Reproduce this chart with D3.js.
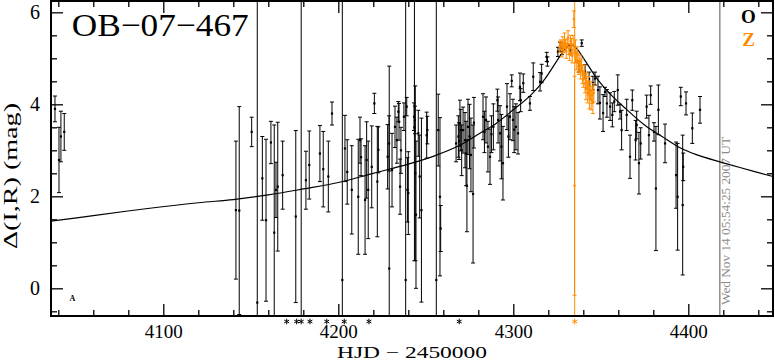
<!DOCTYPE html>
<html lang="en">
<head>
<meta charset="UTF-8">
<title>OB-07-467</title>
<script src="https://cdn.jsdelivr.net/npm/d3@7"></script>
<style>
    html, body { margin: 0; background: #fff; }
    svg { display: block; }
</style>
</head>
<body>
<script>

    // O band points: [HJD-2450000, delta mag, error]
    var obsO = [
        [4038.1, 3.90, 0.28], [4040.4, 2.79, 0.71], [4041.5, 3.30, 0.55], [4043.4, 3.40, 0.40],
        [4141.5, 1.70, 1.50], [4143.4, 1.69, 2.26], [4150.5, 3.40, 0.32], [4153.7, -0.31, 7.0],
        [4156.6, 2.39, 0.91], [4158.7, 1.48, 1.76], [4161.5, 3.17, 0.46], [4163.4, 1.21, 2.34],
        [4164.4, 2.14, 0.60], [4165.4, 2.21, 1.40], [4168.2, 2.46, 0.74], [4175.7, 1.56, 1.87],
        [4181.5, 2.35, 0.63], [4183.4, 2.68, 0.74], [4189.5, 2.93, 0.61], [4191.4, 2.59, 0.82],
        [4194.3, 2.43, 0.77], [4196.4, 3.80, 0.25], [4202.3, 0.18, 7.0], [4203.8, 3.04, 0.72],
        [4205.1, 2.53, 0.70], [4207.7, 2.14, 0.96], [4211.4, 1.99, 1.25], [4212.4, 3.22, 0.50],
        [4213.0, 2.85, 0.40], [4215.3, 1.92, 1.18], [4216.2, 2.79, 0.83], [4217.1, 2.14, 1.06],
        [4219.1, 2.64, 0.89], [4220.6, 4.02, 0.22], [4222.3, 2.32, 1.20], [4222.9, 3.01, 0.50],
        [4228.2, 2.86, 0.70], [4229.0, 3.15, 0.60], [4229.1, 0.43, 4.40], [4230.7, 2.57, 0.80],
        [4232.4, 3.51, 0.45], [4233.5, 3.22, 0.50], [4234.3, 3.84, 0.22], [4234.7, 3.62, 0.40],
        [4235.3, 2.21, 0.60], [4235.8, 3.00, 0.50], [4237.5, 3.73, 0.30], [4238.5, 0.18, 7.0],
        [4239.1, 3.95, 0.20], [4239.5, 2.14, 0.70], [4240.0, 2.07, 0.90], [4243.3, 3.73, 0.30],
        [4243.5, 3.50, 2.90], [4243.8, 3.66, 0.30], [4244.0, 2.50, 1.90], [4244.4, 1.60, 1.60],
        [4245.7, 3.37, 0.50], [4246.5, 2.43, 0.90], [4247.5, 1.70, 2.00], [4250.5, 3.33, 0.50],
        [4250.9, 3.44, 0.30], [4256.0, 0.18, 7.0], [4257.1, 3.44, 0.78], [4258.1, 1.99, 1.72],
        [4258.5, 1.30, 0.50], [4267.3, 3.15, 0.40], [4268.6, 3.30, 0.45], [4269.0, 3.20, 0.40],
        [4269.5, 3.59, 0.50], [4270.0, 3.44, 0.45], [4270.5, 3.00, 0.55], [4271.3, 3.44, 0.50],
        [4272.4, 3.22, 0.60], [4273.0, 2.93, 0.70], [4273.5, 2.23, 1.00], [4274.1, 3.51, 0.60],
        [4275.0, 3.30, 0.70], [4275.8, 2.90, 0.80], [4277.0, 2.05, 1.50], [4277.5, 3.60, 0.55],
        [4282.7, 3.73, 0.50], [4283.5, 3.40, 0.45], [4284.4, 3.66, 0.50], [4285.5, 3.08, 0.55],
        [4286.7, 2.86, 0.60], [4287.5, 3.35, 0.40], [4288.6, 3.51, 0.50], [4290.9, 4.09, 0.24],
        [4291.3, 3.66, 0.50], [4292.4, 3.37, 0.60], [4293.2, 3.08, 0.70], [4294.1, 2.72, 0.80],
        [4296.4, 3.95, 0.50], [4297.2, 3.30, 0.45], [4298.1, 3.73, 0.50], [4299.1, 4.51, 0.13],
        [4299.8, 3.66, 0.45], [4300.5, 3.45, 0.50], [4301.5, 3.51, 0.50], [4302.7, 3.37, 0.45],
        [4303.8, 4.38, 0.30], [4304.2, 4.09, 0.25], [4305.7, 4.46, 0.20], [4309.5, 4.02, 0.15],
        [4311.4, 4.60, 0.30], [4315.3, 4.49, 0.20], [4316.2, 4.67, 0.20], [4319.1, 5.03, 0.10],
        [4319.5, 4.93, 0.10], [4325.5, 5.14, 0.10], [4326.7, 5.25, 0.10], [4327.8, 5.20, 0.12],
        [4332.4, 5.18, 0.10], [4337.5, 4.82, 0.12], [4339.1, 5.33, 0.07], [4341.0, 4.71, 0.15],
        [4343.3, 4.55, 0.15], [4345.5, 4.46, 0.15], [4346.7, 4.56, 0.14], [4348.4, 4.31, 0.30],
        [4349.5, 4.03, 0.35], [4351.3, 3.81, 0.40], [4352.4, 4.27, 0.10], [4353.5, 4.02, 0.30],
        [4355.3, 3.95, 0.30], [4356.6, 3.77, 0.26], [4357.7, 4.06, 0.22], [4359.7, 4.31, 0.33],
        [4361.0, 3.84, 0.16], [4361.9, 3.44, 0.43], [4364.8, 3.77, 0.34], [4366.7, 2.86, 0.47],
        [4368.0, 4.09, 0.22], [4369.9, 3.22, 0.43], [4370.5, 3.55, 0.30], [4371.8, 2.72, 0.67],
        [4372.8, 3.15, 0.34], [4376.2, 3.95, 0.25], [4377.5, 3.33, 0.43], [4378.5, 4.20, 0.20],
        [4380.4, 3.40, 0.20], [4381.5, 2.17, 1.35], [4382.9, 3.88, 0.54], [4386.7, 3.15, 0.42],
        [4393.0, 2.46, 0.72], [4393.9, 1.99, 1.16], [4395.7, 4.17, 0.20], [4396.8, 1.81, 1.52],
        [4397.1, 2.64, 0.30], [4398.7, 4.02, 0.25], [4402.3, 3.48, 0.33], [4406.7, 3.88, 0.29],
        // below the plotted range
        [4170.5, -1.5, 0.5], [4176.2, -1.5, 0.5], [4178.8, -1.5, 9.0], [4183.8, -1.5, 0.5],
        [4193.4, -1.5, 0.5], [4203.4, -1.5, 0.5], [4217.5, -1.5, 0.5], [4269.1, -1.5, 0.5]
    ];

    // Z band points
    var obsZ = [
        [4326.5, 5.25, 0.12], [4327.2, 5.30, 0.10], [4327.8, 5.18, 0.15], [4328.3, 5.35, 0.12],
        [4328.8, 5.22, 0.10], [4329.3, 5.40, 0.15], [4329.8, 5.28, 0.12], [4330.3, 5.15, 0.15],
        [4330.8, 5.32, 0.10], [4331.3, 5.45, 0.15], [4331.8, 5.20, 0.12], [4332.2, 5.10, 0.15],
        [4332.7, 5.38, 0.12], [4333.2, 5.25, 0.18], [4333.7, 5.05, 0.15], [4334.2, 5.30, 0.20],
        [4334.6, 5.85, 0.18], [4335.0, 2.23, 2.38], [4335.1, -1.5, 9.0], [4335.5, 5.15, 0.25],
        [4336.0, 4.95, 0.20], [4336.5, 5.10, 0.15], [4337.0, 4.90, 0.20], [4337.5, 4.80, 0.15],
        [4338.0, 4.95, 0.12], [4338.5, 4.75, 0.20], [4339.0, 4.85, 0.15], [4339.5, 4.65, 0.20],
        [4340.0, 4.55, 0.18], [4340.5, 4.70, 0.15], [4341.0, 4.45, 0.20], [4341.5, 4.35, 0.25],
        [4342.0, 4.50, 0.18], [4342.5, 4.25, 0.22], [4343.0, 4.40, 0.20], [4343.5, 4.15, 0.25],
        [4344.0, 4.30, 0.20], [4344.5, 4.10, 0.22], [4345.0, 4.20, 0.18], [4345.5, 4.05, 0.25],
        [4346.0, 4.25, 0.20]
    ];

    // model curve
    var modelT = [4035.8, 4060, 4090, 4120, 4140, 4160, 4180, 4200, 4220, 4240, 4255, 4270, 4280,
        4290, 4300, 4310, 4318, 4325, 4330, 4333, 4336, 4341, 4348, 4356, 4365, 4375, 4385, 4395,
        4405, 4418, 4430, 4448.4];
    var modelMag = [1.46, 1.58, 1.73, 1.86, 1.93, 2.03, 2.16, 2.30, 2.50, 2.70, 2.88, 3.12, 3.35,
        3.58, 3.88, 4.20, 4.55, 4.95, 5.22, 5.30, 5.22, 4.95, 4.55, 4.20, 3.88, 3.55, 3.30, 3.06,
        2.90, 2.75, 2.62, 2.43];

    var xTicks = [4100, 4200, 4300, 4400];
    var yTicks = [0, 2, 4, 6];
    var bands = ["O", "Z"];
    var bandColors = ["#000", "#ff8c00"];
    var stampDate = 4418;
    var stampText = "Wed Nov 14 05:54:25 2007 UT";

    var width = 775, height = 362;
    var margin = {left: 51, top: 1, right: 2, bottom: 46};
    var w = width - margin.left - margin.right;
    var h = height - margin.top - margin.bottom;
    var font = "'Liberation Serif', 'DejaVu Serif', serif";

    var x = d3.scaleLinear().domain([4035.83, 4448.4]).range([0, w]);
    var y = d3.scaleLinear().domain([-0.602, 6.246]).range([h, 0]);

    var svg = d3.select("body").append("svg").attr("width", width).attr("height", height)
        .style("font-family", font);
    var g = svg.append("g").attr("transform", "translate(" + margin.left + "," + margin.top + ")");

    g.append("clipPath").attr("id", "clip").append("rect").attr("width", w).attr("height", h);

    // ticks on all four sides
    var xMinor = d3.range(4040, 4441, 20).filter(function (d) { return d % 100 !== 0; });
    var yMinor = d3.range(-0.5, 6.01, 0.5).filter(function (d) { return d % 2 !== 0; });

    function addAxis(axisFn, scale, tr, size, values, fmt, pad, fs) {
        var a = axisFn(scale).tickValues(values).tickSizeInner(size).tickSizeOuter(0)
            .tickPadding(pad).tickFormat(fmt);
        var sel = g.append("g").attr("transform", tr).call(a)
            .attr("font-family", font).attr("font-size", fs);
        sel.select(".domain").remove();
        sel.selectAll("line").attr("stroke", "#000").attr("stroke-width", 1.3);
        sel.selectAll("text").attr("fill", "#000");
        return sel;
    }
    var none = function () { return ""; };
    addAxis(d3.axisBottom, x, "translate(0," + h + ")", -12, xTicks, d3.format("d"), 9, 19);
    addAxis(d3.axisBottom, x, "translate(0," + h + ")", -6, xMinor, none, 0, 10);
    addAxis(d3.axisTop, x, "translate(0,0)", -12, xTicks, none, 0, 10);
    addAxis(d3.axisTop, x, "translate(0,0)", -6, xMinor, none, 0, 10);
    addAxis(d3.axisLeft, y, "translate(0,0)", -12, yTicks, d3.format("d"), 11, 20);
    addAxis(d3.axisLeft, y, "translate(0,0)", -6, yMinor, none, 0, 10);
    addAxis(d3.axisRight, y, "translate(" + w + ",0)", -12, yTicks, none, 0, 10);
    addAxis(d3.axisRight, y, "translate(" + w + ",0)", -6, yMinor, none, 0, 10);

    // date stamp
    g.append("line").attr("x1", x(stampDate)).attr("x2", x(stampDate)).attr("y1", 0).attr("y2", h)
        .attr("stroke", "#8c8c8c").attr("stroke-width", 1.5);
    g.append("text").attr("transform", "translate(" + (x(stampDate) + 10) + "," + (h - 11) + ") rotate(-90)")
        .attr("font-size", 12).attr("fill", "#8c8c8c").attr("textLength", 168)
        .attr("lengthAdjust", "spacingAndGlyphs").text(stampText);

    var plot = g.append("g").attr("clip-path", "url(#clip)");

    // model
    var line = d3.line().x(function (d) { return x(d[0]); }).y(function (d) { return y(d[1]); })
        .curve(d3.curveCatmullRom);
    plot.append("path").datum(modelT.map(function (t, i) { return [t, modelMag[i]]; }))
        .attr("d", line).attr("fill", "none").attr("stroke", "#000").attr("stroke-width", 1.2);

    function drawBand(data, color) {
        var pts = plot.append("g").selectAll("g").data(data).enter().append("g");
        pts.append("line")
            .attr("x1", function (d) { return x(d[0]); }).attr("x2", function (d) { return x(d[0]); })
            .attr("y1", function (d) { return y(d[1] - d[2]); }).attr("y2", function (d) { return y(d[1] + d[2]); })
            .attr("stroke", color).attr("stroke-width", 1);
        [-1, 1].forEach(function (s) {
            pts.append("line")
                .attr("x1", function (d) { return x(d[0]) - 2; }).attr("x2", function (d) { return x(d[0]) + 2; })
                .attr("y1", function (d) { return y(d[1] + s * d[2]); }).attr("y2", function (d) { return y(d[1] + s * d[2]); })
                .attr("stroke", color).attr("stroke-width", 1);
        });
        pts.append("rect")
            .attr("x", function (d) { return x(d[0]) - 1.1; }).attr("y", function (d) { return y(d[1]) - 1.1; })
            .attr("width", 2.2).attr("height", 2.2).attr("fill", color);

        // off-scale points marked below the frame
        g.append("g").selectAll("path").data(data.filter(function (d) { return d[1] < y.domain()[0]; }))
            .enter().append("path")
            .attr("d", d3.symbol(d3.symbolAsterisk, 22))
            .attr("transform", function (d) { return "translate(" + x(d[0]) + "," + (h + 5.5) + ")"; })
            .attr("fill", "none").attr("stroke", color).attr("stroke-width", 1);
    }
    drawBand(obsO, bandColors[0]);
    drawBand(obsZ, bandColors[1]);

    // frame
    g.append("rect").attr("width", w).attr("height", h).attr("fill", "none")
        .attr("stroke", "#000").attr("stroke-width", 2);

    // title and legend
    g.append("text").attr("x", 71.7 - margin.left).attr("y", 36 - margin.top)
        .attr("font-size", 32).attr("textLength", 177).attr("lengthAdjust", "spacingAndGlyphs")
        .text("OB\u221207\u2212467");
    bands.forEach(function (b, i) {
        g.append("text").attr("x", 748.5 - margin.left).attr("y", 23 + i * 23 - margin.top)
            .attr("text-anchor", "middle").attr("font-size", 19).attr("font-weight", "bold")
            .attr("fill", bandColors[i]).text(b);
    });
    g.append("text").attr("x", 72.5 - margin.left).attr("y", 301 - margin.top)
        .attr("text-anchor", "middle").attr("font-size", 8).attr("font-weight", "bold").text("A");

    // axis titles
    svg.append("text").attr("x", margin.left + w / 2).attr("y", 358)
        .attr("text-anchor", "middle").attr("font-size", 17)
        .attr("textLength", 150).attr("lengthAdjust", "spacingAndGlyphs")
        .text("HJD \u2212 2450000");
    svg.append("text").attr("transform", "translate(17,176) rotate(-90)")
        .attr("text-anchor", "middle").attr("font-size", 19)
        .attr("textLength", 146).attr("lengthAdjust", "spacingAndGlyphs")
        .text("\u0394(I,R) (mag)");

</script>
</body>
</html>
